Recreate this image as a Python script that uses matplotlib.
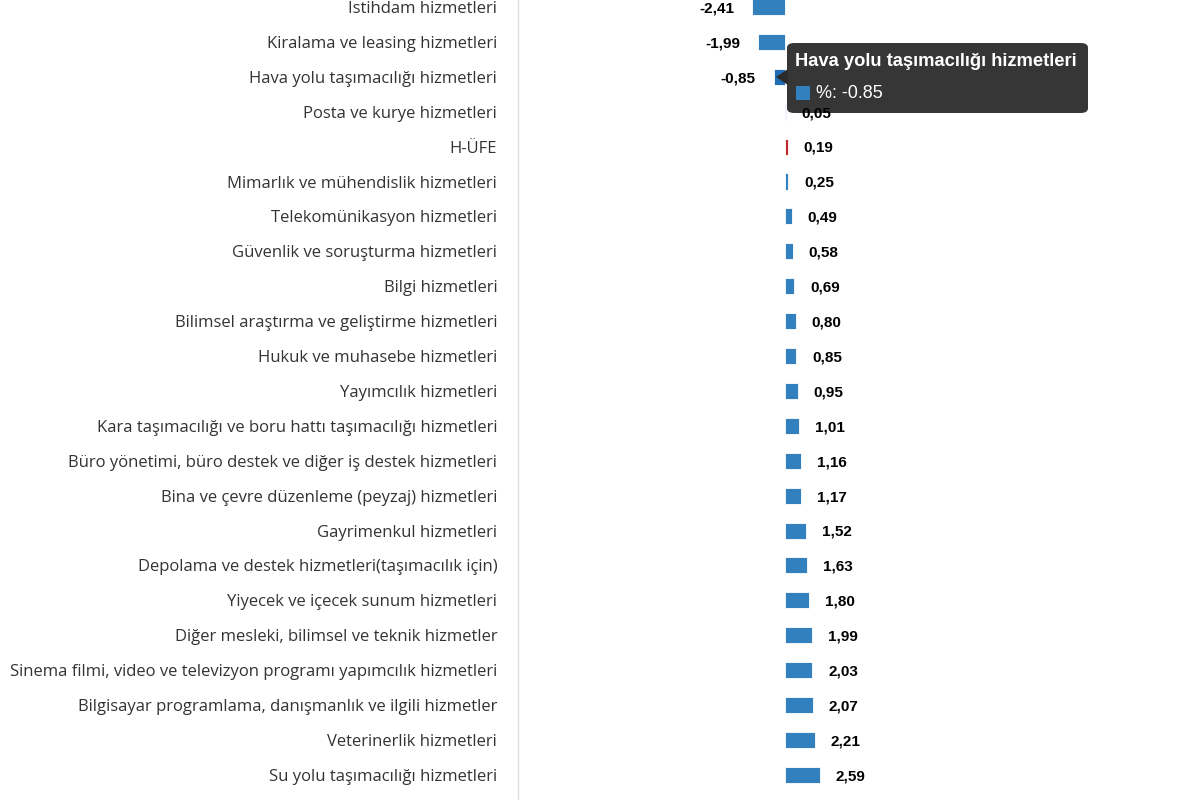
import matplotlib
matplotlib.use("Agg")
import matplotlib.pyplot as plt
from matplotlib.patches import FancyBboxPatch, Polygon, Rectangle

categories = [
    "İstihdam hizmetleri",
    "Kiralama ve leasing hizmetleri",
    "Hava yolu taşımacılığı hizmetleri",
    "Posta ve kurye hizmetleri",
    "H-ÜFE",
    "Mimarlık ve mühendislik hizmetleri",
    "Telekomünikasyon hizmetleri",
    "Güvenlik ve soruşturma hizmetleri",
    "Bilgi hizmetleri",
    "Bilimsel araştırma ve geliştirme hizmetleri",
    "Hukuk ve muhasebe hizmetleri",
    "Yayımcılık hizmetleri",
    "Kara taşımacılığı ve boru hattı taşımacılığı hizmetleri",
    "Büro yönetimi, büro destek ve diğer iş destek hizmetleri",
    "Bina ve çevre düzenleme (peyzaj) hizmetleri",
    "Gayrimenkul hizmetleri",
    "Depolama ve destek hizmetleri(taşımacılık için)",
    "Yiyecek ve içecek sunum hizmetleri",
    "Diğer mesleki, bilimsel ve teknik hizmetler",
    "Sinema filmi, video ve televizyon programı yapımcılık hizmetleri",
    "Bilgisayar programlama, danışmanlık ve ilgili hizmetler",
    "Veterinerlik hizmetleri",
    "Su yolu taşımacılığı hizmetleri",
]
values = [-2.41, -1.99, -0.85, 0.05, 0.19, 0.25, 0.49, 0.58, 0.69, 0.80,
          0.85, 0.95, 1.01, 1.16, 1.17, 1.52, 1.63, 1.80, 1.99, 2.03,
          2.07, 2.21, 2.59]
highlight = "H-ÜFE"
hovered = "Hava yolu taşımacılığı hizmetleri"

blue = "#3280bd"
red = "#c0282e"

fig = plt.figure(figsize=(12, 8), dpi=100)
ax = fig.add_axes([518 / 1200, 0, 682 / 1200, 1])

colors = []
for c in categories:
    if c == highlight:
        colors.append(red)
    elif c == hovered:
        colors.append("#1f6db5")
    else:
        colors.append(blue)

ypos = list(range(len(categories)))
ax.barh(ypos, values, height=0.46, color=colors, edgecolor="white", linewidth=0.6)

for y, v in zip(ypos, values):
    txt = f"{v:.2f}".replace(".", ",")
    if v < 0:
        ax.annotate(txt, (v, y), xytext=(-13, -1), textcoords="offset points",
                    ha="right", va="center", fontsize=11, fontweight="bold",
                    family="Liberation Sans", color="black", zorder=10)
    else:
        ax.annotate(txt, (v, y), xytext=(11.5, -1), textcoords="offset points",
                    ha="left", va="center", fontsize=11, fontweight="bold",
                    family="Liberation Sans", color="black", zorder=10)

ax.set_xlim(-19.78, 30.74)
ax.set_ylim(22.72, -0.2)
ax.set_yticks(ypos)
ax.set_yticklabels(categories, fontsize=12, family="Open Sans", color="#333333")
ax.tick_params(axis="y", length=0, pad=15)
ax.set_xticks([])
for s in ["top", "right", "bottom"]:
    ax.spines[s].set_visible(False)
ax.spines["left"].set_color("#e0e0e0")
ax.spines["left"].set_linewidth(1)

# tooltip
tt = fig.transFigure
box = FancyBboxPatch((787 / 1200, 1 - 113 / 800), 301 / 1200, 70 / 800,
                     boxstyle="round,pad=0,rounding_size=0.006",
                     transform=tt, facecolor="#2b2b2b",
                     edgecolor="none", alpha=0.95, zorder=5, clip_on=False)
ax.add_patch(box)
arrow = Polygon([(776 / 1200, 1 - 77 / 800), (788 / 1200, 1 - 69 / 800),
                 (788 / 1200, 1 - 85 / 800)], closed=True,
                transform=tt, facecolor="#2b2b2b",
                edgecolor="none", zorder=5, clip_on=False)
ax.add_patch(arrow)
ax.text(795 / 1200, 1 - 61 / 800, hovered, color="white", fontsize=13.2,
        fontweight="bold", family="Liberation Sans", va="center", ha="left",
        zorder=6, transform=tt)
sq = Rectangle((796 / 1200, 1 - 100 / 800), 14 / 1200, 14 / 800,
               transform=tt, facecolor=blue, edgecolor="none",
               zorder=6, clip_on=False)
ax.add_patch(sq)
ax.text(816 / 1200, 1 - 93 / 800, "%: -0.85", color="white", fontsize=13,
        family="Liberation Sans", va="center", ha="left", zorder=6,
        transform=tt)

fig.savefig("out.png", dpi=100)
